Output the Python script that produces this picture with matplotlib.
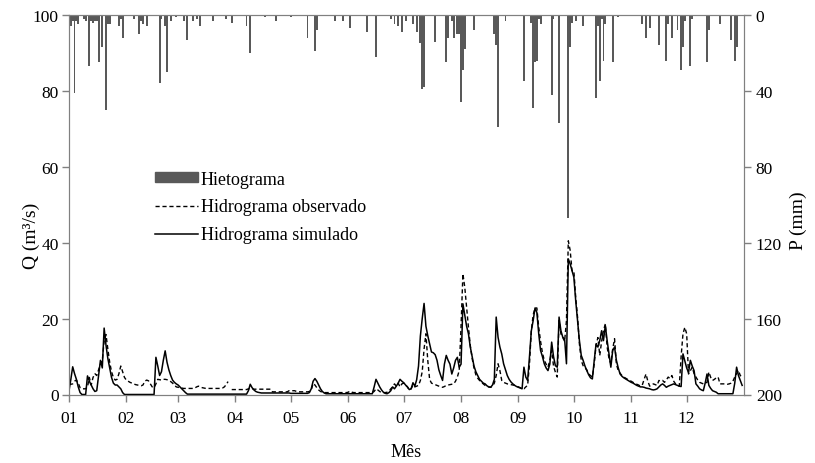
import numpy as np
import matplotlib
matplotlib.use('Agg')
import matplotlib.pyplot as plt
from matplotlib.patches import Patch

plt.rcParams['font.family'] = ['Liberation Serif', 'DejaVu Serif']
plt.rcParams['font.size'] = 12

nan = np.nan

# ─── DADOS ───────────────────────────────────────────────────────────────────
meses = ['01', '02', '03', '04', '05', '06', '07', '08', '09', '10', '11', '12']
inicio_mes = [0, 31, 59, 90, 120, 151, 181, 212, 243, 273, 304, 334]

# vazão observada (m³/s), um valor por dia, uma linha por mês
q_obs = [
    2.7, 2.7, 2.8, 3.5, 3.8, 3.0, 1.8, 1.5, 1.5, 1.5, 2.0, 4.5, 2.5, 4.5, 5.5, 5.0, 6.5, 8.0, 9.0, 14.0, 15.8, 12.0, 8.5, 6.0, 4.5, 3.8, 4.0, 5.5, 7.5, 6.0, 4.5,
    3.8, 3.5, 3.2, 3.0, 2.8, 2.6, 2.5, 2.4, 2.3, 2.5, 3.5, 3.8, 3.6, 2.8, 2.0, 1.8, 2.8, 4.0, 3.9, 3.8, 4.0, 4.0, 3.9, 3.7, 3.4, 3.0, 2.5, 2.0,
    1.9, 1.8, 1.7, 1.6, 1.6, 1.6, 1.6, 1.6, 1.6, 1.7, 2.0, 2.2, 2.0, 1.8, 1.7, 1.6, 1.6, 1.6, 1.6, 1.6, 1.6, 1.6, 1.6, 1.6, 1.7, 2.0, 2.6, 3.4, nan, 1.3, 1.3,
    1.3, 1.3, 1.3, 1.3, 1.3, 1.3, 1.3, 1.5, 1.6, 1.5, 1.4, 1.4, 1.4, 1.4, 1.4, 1.4, 1.4, 1.4, 1.4, 1.4, 0.7, 0.7, 0.7, 0.7, 0.7, 0.7, 0.7, 0.7, 0.7, 1.0,
    1.0, 1.0, 1.0, 0.8, 0.7, 0.7, 0.7, 0.7, 0.7, 0.7, 0.8, 1.2, 2.9, 2.5, 1.8, 1.2, 0.8, 0.6, 0.5, 0.5, 0.5, 0.5, 0.5, 0.5, 0.5, 0.5, 0.5, 0.5, 0.5, 0.5, 0.5,
    0.6, 0.9, 0.6, 0.5, 0.5, 0.5, 0.5, 0.5, 0.5, 0.5, 0.5, 0.5, 0.5, 0.5, 0.8, 1.5, 1.2, 0.8, 0.5, 0.5, 0.5, 0.6, 0.8, 1.5, 2.0, 2.8, 2.2, 3.0, 2.0, 2.8,
    3.0, 2.5, 2.0, 1.2, 1.5, 2.5, 2.0, 2.2, 2.4, 3.7, 6.0, 12.0, 16.0, 9.0, 4.0, 3.0, 2.8, 2.6, 2.4, 2.2, 2.0, 1.9, 2.1, 2.4, 2.5, 2.6, 2.7, 2.8, 3.5, 4.6, 6.3,
    18.0, 31.8, 28.3, 23.0, 17.7, 12.9, 9.5, 7.0, 5.2, 4.3, 3.7, 3.2, 2.8, 2.4, 2.2, 2.0, 1.9, 2.2, 3.0, 5.0, 8.1, 6.3, 3.7, 3.2, 3.0, 2.8, 2.7, 2.6, 2.5, 2.4, 2.2,
    2.0, 1.8, 1.6, 1.5, 2.0, 2.4, 8.0, 16.8, 21.0, 22.8, 22.8, 17.7, 14.0, 11.0, 9.0, 8.0, 7.2, 9.0, 11.6, 7.5, 5.9, 4.6, 19.5, 16.0, 15.0, 14.0, 19.5, 40.5, 38.0, 32.6,
    32.6, 25.6, 20.4, 13.3, 9.0, 7.6, 7.0, 6.5, 5.4, 5.0, 4.6, 8.0, 13.0, 15.0, 10.3, 14.0, 16.8, 18.6, 12.5, 9.5, 8.1, 12.0, 14.7, 8.0, 6.3, 5.6, 5.0, 4.6, 4.3, 4.0, 3.7,
    3.5, 3.2, 2.9, 2.7, 2.5, 2.2, 2.5, 4.0, 5.4, 3.5, 2.2, 2.5, 2.8, 2.6, 2.4, 3.7, 3.5, 3.7, 3.2, 3.8, 4.6, 4.2, 5.0, 3.5, 2.8, 2.5, 2.2, 10.0, 16.0, 17.7,
    16.0, 5.4, 6.3, 7.2, 5.5, 4.6, 3.8, 3.2, 3.0, 2.8, 3.0, 3.2, 5.9, 4.5, 3.7, 4.0, 4.4, 4.6, 2.8, 2.8, 2.8, 2.8, 2.7, 2.8, 3.0, 3.5, 4.6, 5.5, 6.3, 5.0, 4.6,
]

# vazão simulada (m³/s)
q_sim = [
    1.0, 4.0, 7.3, 5.5, 4.0, 2.0, 0.5, 0.0, 0.0, 0.0, 4.9, 3.5, 2.5, 1.5, 0.8, 1.0, 5.0, 9.0, 7.0, 17.5, 13.0, 9.5, 7.0, 4.5, 3.0, 2.5, 2.5, 2.0, 1.5, 0.5, 0.0,
    0.0, 0.0, 0.0, 0.0, 0.0, 0.0, 0.0, 0.0, 0.0, 0.0, 0.0, 0.0, 0.0, 0.0, 0.0, 0.0, 9.8, 7.5, 5.0, 6.0, 9.0, 11.5, 8.5, 6.5, 5.0, 3.8, 3.2, 2.8,
    2.5, 2.0, 1.5, 1.0, 0.5, 0.1, 0.1, 0.1, 0.1, 0.1, 0.1, 0.1, 0.1, 0.1, 0.1, 0.1, 0.1, 0.1, 0.1, 0.1, 0.1, 0.1, 0.1, 0.1, 0.1, 0.1, 0.1, 0.1, 0.1, 0.1, 0.1,
    0.1, 0.1, 0.1, 0.1, 0.1, 0.1, 0.1, 1.0, 2.7, 1.8, 1.2, 0.8, 0.6, 0.5, 0.4, 0.4, 0.4, 0.4, 0.4, 0.4, 0.4, 0.4, 0.4, 0.4, 0.4, 0.4, 0.4, 0.4, 0.4, 0.4,
    0.3, 0.3, 0.3, 0.3, 0.3, 0.3, 0.3, 0.3, 0.3, 0.3, 0.5, 1.5, 3.5, 4.2, 3.5, 2.5, 1.5, 0.8, 0.4, 0.2, 0.2, 0.2, 0.2, 0.2, 0.2, 0.2, 0.2, 0.2, 0.2, 0.2, 0.2,
    0.2, 0.2, 0.2, 0.2, 0.2, 0.2, 0.2, 0.2, 0.2, 0.2, 0.2, 0.2, 0.2, 0.2, 2.0, 4.0, 3.0, 2.0, 1.2, 0.6, 0.3, 0.2, 0.5, 1.0, 2.0, 1.5, 2.2, 3.0, 4.0, 3.5,
    3.1, 2.5, 2.0, 1.3, 1.5, 3.1, 2.2, 3.9, 7.5, 15.4, 20.0, 24.0, 18.0, 15.5, 13.3, 11.2, 11.0, 10.5, 9.0, 6.5, 5.0, 3.7, 8.0, 10.3, 9.0, 8.0, 5.4, 7.0, 9.0, 9.8, 7.2,
    8.0, 23.9, 21.0, 18.0, 16.0, 12.5, 10.0, 7.5, 6.0, 5.0, 4.0, 3.5, 3.0, 2.8, 2.3, 2.0, 1.9, 2.5, 4.0, 20.4, 15.1, 12.5, 10.7, 8.1, 6.5, 5.0, 4.0, 3.3, 2.8, 2.4, 2.1,
    1.9, 1.7, 1.5, 7.2, 4.6, 3.7, 10.0, 16.8, 19.5, 22.8, 21.6, 16.0, 11.6, 10.0, 8.1, 7.0, 6.3, 8.0, 13.8, 10.0, 7.6, 7.2, 20.4, 16.8, 15.1, 14.6, 8.1, 35.7, 34.4, 32.6,
    30.9, 24.7, 19.5, 14.2, 10.3, 9.0, 7.5, 6.3, 5.2, 4.4, 4.1, 8.9, 13.3, 12.5, 14.2, 16.8, 14.2, 18.2, 14.2, 10.7, 7.2, 11.6, 12.5, 9.0, 7.0, 5.4, 4.8, 4.4, 4.1, 3.8, 3.5,
    3.2, 3.0, 2.7, 2.4, 2.2, 2.0, 2.0, 1.9, 1.7, 1.6, 1.5, 1.3, 1.2, 1.3, 1.5, 2.0, 2.5, 2.8, 2.4, 1.9, 2.2, 2.4, 2.6, 2.8, 2.6, 2.4, 2.2, 2.1, 10.7, 8.9,
    7.0, 5.8, 9.0, 7.5, 6.3, 2.8, 2.2, 1.5, 1.2, 1.0, 3.0, 5.4, 2.4, 1.6, 1.0, 0.8, 0.6, 0.2, 0.2, 0.2, 0.2, 0.2, 0.2, 0.2, 0.2, 0.2, 3.0, 7.2, 5.0, 3.7, 2.4,
]

# precipitação diária (mm): dia do ano e altura
chuva_dia = [0, 1, 2, 3, 4, 5, 8, 9, 11, 12, 13, 14, 15, 16, 18, 20, 21, 22, 27, 28, 29,
             35, 38, 39, 40, 42, 49, 50, 52, 53, 55, 58, 62, 64, 67, 69, 71, 78, 85, 88,
             96, 98, 106, 112, 120, 129, 133, 134, 144, 148, 152, 161, 166, 174, 176,
             178, 180, 182, 186, 188, 190, 191, 192, 198, 204, 205, 207, 208, 210, 211,
             212, 213, 214, 219, 230, 231, 232, 236, 246, 250, 251, 252, 253, 254, 255,
             261, 262, 265, 270, 271, 272, 274, 278, 285, 286, 287, 288, 289, 290, 294,
             297, 310, 312, 314, 319, 323, 324, 326, 329, 331, 332, 333, 336, 337, 345,
             346, 352, 358, 360, 361]
chuva_mm = [4, 6, 3, 41, 3, 5, 2, 3, 27, 3, 4, 3, 3, 25, 17, 50, 5, 5, 6, 2, 12,
            2, 10, 3, 5, 6, 36, 2, 6, 30, 3, 1, 3, 13, 3, 2, 6, 3, 2, 4,
            6, 20, 1, 3, 1, 12, 19, 8, 3, 3, 7, 9, 22, 2, 5,
            6, 9, 3, 5, 9, 15, 39, 38, 14, 25, 12, 3, 12, 10, 10,
            46, 29, 18, 8, 10, 16, 59, 3, 35, 4, 49, 25, 24, 2, 5,
            42, 2, 57, 107, 17, 4, 3, 6, 44, 6, 35, 2, 24, 5, 25,
            1, 5, 12, 7, 16, 24, 5, 12, 8, 29, 17, 3, 27, 2, 25,
            8, 5, 13, 24, 17]

# ─── GRÁFICO ─────────────────────────────────────────────────────────────────
dias = np.arange(len(q_obs))
cinza = '#808080'
cor_barra = '#595959'

fig = plt.figure(figsize=(8.15, 4.64), dpi=100)
ax = fig.add_axes([69/815, 68.5/464, 675/815, 379.5/464])
ax2 = ax.twinx()

ax2.bar(chuva_dia, chuva_mm, width=1.0, color=cor_barra, linewidth=0)
ax2.set_ylim(200, 0)
ax2.set_yticks([0, 40, 80, 120, 160, 200])
ax2.set_ylabel('P (mm)', fontsize=14)
ax2.yaxis.set_label_coords(1.068, 0.46)

l_obs, = ax.plot(dias, q_obs, color='black', lw=1.0, ls=(0, (3, 2)))
l_sim, = ax.plot(dias, q_sim, color='black', lw=1.1)
ax.set_zorder(ax2.get_zorder() + 1)
ax.patch.set_visible(False)

ax.set_xlim(0, 365)
ax.set_ylim(0, 100)
ax.set_yticks([0, 20, 40, 60, 80, 100])
ax.set_xticks(inicio_mes)
ax.set_xticklabels(meses)
ax.set_ylabel('Q (m³/s)', fontsize=14)
ax.yaxis.set_label_coords(-0.043, 0.42)
ax.set_xlabel('Mês', fontsize=13)
ax.xaxis.set_label_coords(0.5, -0.127)

for a in (ax, ax2):
    for s in a.spines.values():
        s.set_color(cinza)
    a.tick_params(direction='out', color=cinza, length=5, width=1, labelsize=12.5)
ax.tick_params(axis='x', pad=6)
ax.tick_params(axis='y', pad=2.5)

handles = [Patch(color=cor_barra), l_obs, l_sim]
labels = ['Hietograma', 'Hidrograma observado', 'Hidrograma simulado']
ax.legend(handles, labels, loc='upper left', bbox_to_anchor=(0.127, 0.59),
          frameon=False, handlelength=2.4, handleheight=0.45, labelspacing=0.6,
          borderpad=0, borderaxespad=0, handletextpad=0.15, fontsize=13)

fig.savefig('out.png', dpi=100)
